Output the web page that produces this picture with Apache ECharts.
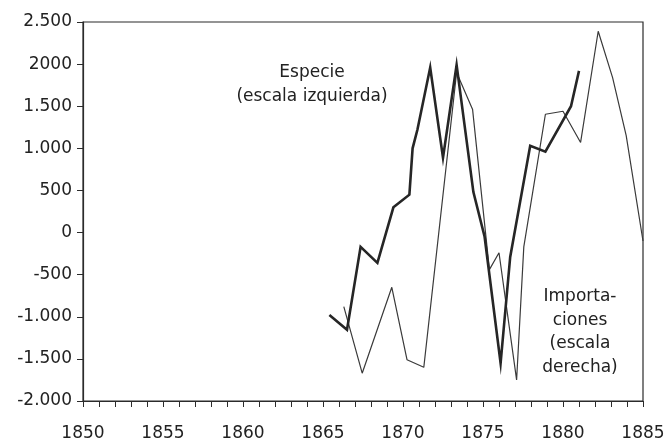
<!DOCTYPE html>
<html>
<head>
<meta charset="utf-8">
<script src="https://cdn.jsdelivr.net/npm/echarts@6/dist/echarts.min.js"></script>
<style>
  html, body { margin: 0; padding: 0; background: #fff; }
  #chart { width: 670px; height: 446px; }
</style>
</head>
<body>
<div id="chart"></div>
<script>
// years are read off the scan, they do not fall exactly on the ticks
const especieYears = [1865.4, 1866.5, 1867.35, 1868.4, 1869.4, 1870.4, 1870.6, 1870.9, 1871.7, 1872.5,
  1873.35, 1874.4, 1875.1, 1876.1, 1876.7, 1877.95, 1878.9, 1880.5, 1881];
const especieValues = [-980, -1155, -170, -360, 300, 450, 1000, 1220, 1960, 890,
  1990, 480, -50, -1550, -290, 1030, 960, 1500, 1920];

const importYears = [1866.3, 1867.45, 1869.3, 1870.25, 1871.3, 1873.35, 1874.35, 1875.4, 1876.0, 1877.1,
  1877.55, 1878.9, 1880.0, 1881.1, 1882.2, 1883.1, 1883.95, 1885];
const importValues = [-880, -1670, -650, -1510, -1600, 1900, 1460, -440, -240, -1750,
  -170, 1405, 1440, 1070, 2390, 1840, 1150, -100];

const yTickValues = [-2000, -1500, -1000, -500, 0, 500, 1000, 1500, 2000, 2500];
const yTickLabels = ['-2.000', '-1.500', '-1.000', '-500', '0', '500', '1.000', '1.500', '2000', '2.500'];
const xTickLabels = [1850, 1855, 1860, 1865, 1870, 1875, 1880, 1885];

const ink = '#2b2b2b';
const font = '"DejaVu Sans", Arial, sans-serif';

const chart = echarts.init(document.getElementById('chart'));

const option = {
  backgroundColor: '#fff',
  animation: false,
  grid: {
    left: 83,
    right: 27,
    top: 22,
    bottom: 45,
    show: true,
    borderColor: ink,
    borderWidth: 1.2
  },
  xAxis: {
    type: 'value',
    min: 1850,
    max: 1885,
    interval: 1,
    splitLine: { show: false },
    axisLine: { onZero: false, lineStyle: { color: ink, width: 1.2 } },
    axisTick: { length: 6, lineStyle: { color: ink, width: 1 } },
    axisLabel: {
      margin: 24,
      color: '#222',
      fontSize: 17,
      fontFamily: font,
      showMinLabel: true,
      showMaxLabel: true,
      formatter: function (v) {
        return xTickLabels.indexOf(v) >= 0 ? String(v) : '';
      }
    }
  },
  yAxis: {
    type: 'value',
    min: -2000,
    max: 2500,
    interval: 500,
    splitLine: { show: false },
    axisLine: { show: true, lineStyle: { color: ink, width: 1.2 } },
    axisTick: { show: true, length: 6, lineStyle: { color: ink, width: 1 } },
    axisLabel: {
      margin: 11,
      color: '#222',
      fontSize: 17,
      fontFamily: font,
      formatter: function (v) {
        const i = yTickValues.indexOf(v);
        return i >= 0 ? yTickLabels[i] : '';
      }
    }
  },
  series: [
    {
      name: 'Especie',
      type: 'line',
      showSymbol: false,
      data: especieYears.map((y, i) => [y, especieValues[i]]),
      lineStyle: { color: '#262626', width: 2.6, join: 'miter' },
      z: 3
    },
    {
      name: 'Importaciones',
      type: 'line',
      showSymbol: false,
      data: importYears.map((y, i) => [y, importValues[i]]),
      lineStyle: { color: '#3a3a3a', width: 1.2 },
      z: 2
    }
  ],
  graphic: [
    {
      type: 'text',
      x: 312, y: 61,
      style: {
        text: 'Especie\n(escala izquierda)',
        textAlign: 'center',
        textVerticalAlign: 'top',
        font: '17px ' + font,
        lineHeight: 24,
        fill: '#222'
      }
    },
    {
      type: 'text',
      x: 580, y: 285,
      style: {
        text: 'Importa-\nciones\n(escala\nderecha)',
        textAlign: 'center',
        textVerticalAlign: 'top',
        font: '17px ' + font,
        lineHeight: 23.5,
        fill: '#222'
      }
    }
  ]
};

chart.setOption(option);
</script>
</body>
</html>
